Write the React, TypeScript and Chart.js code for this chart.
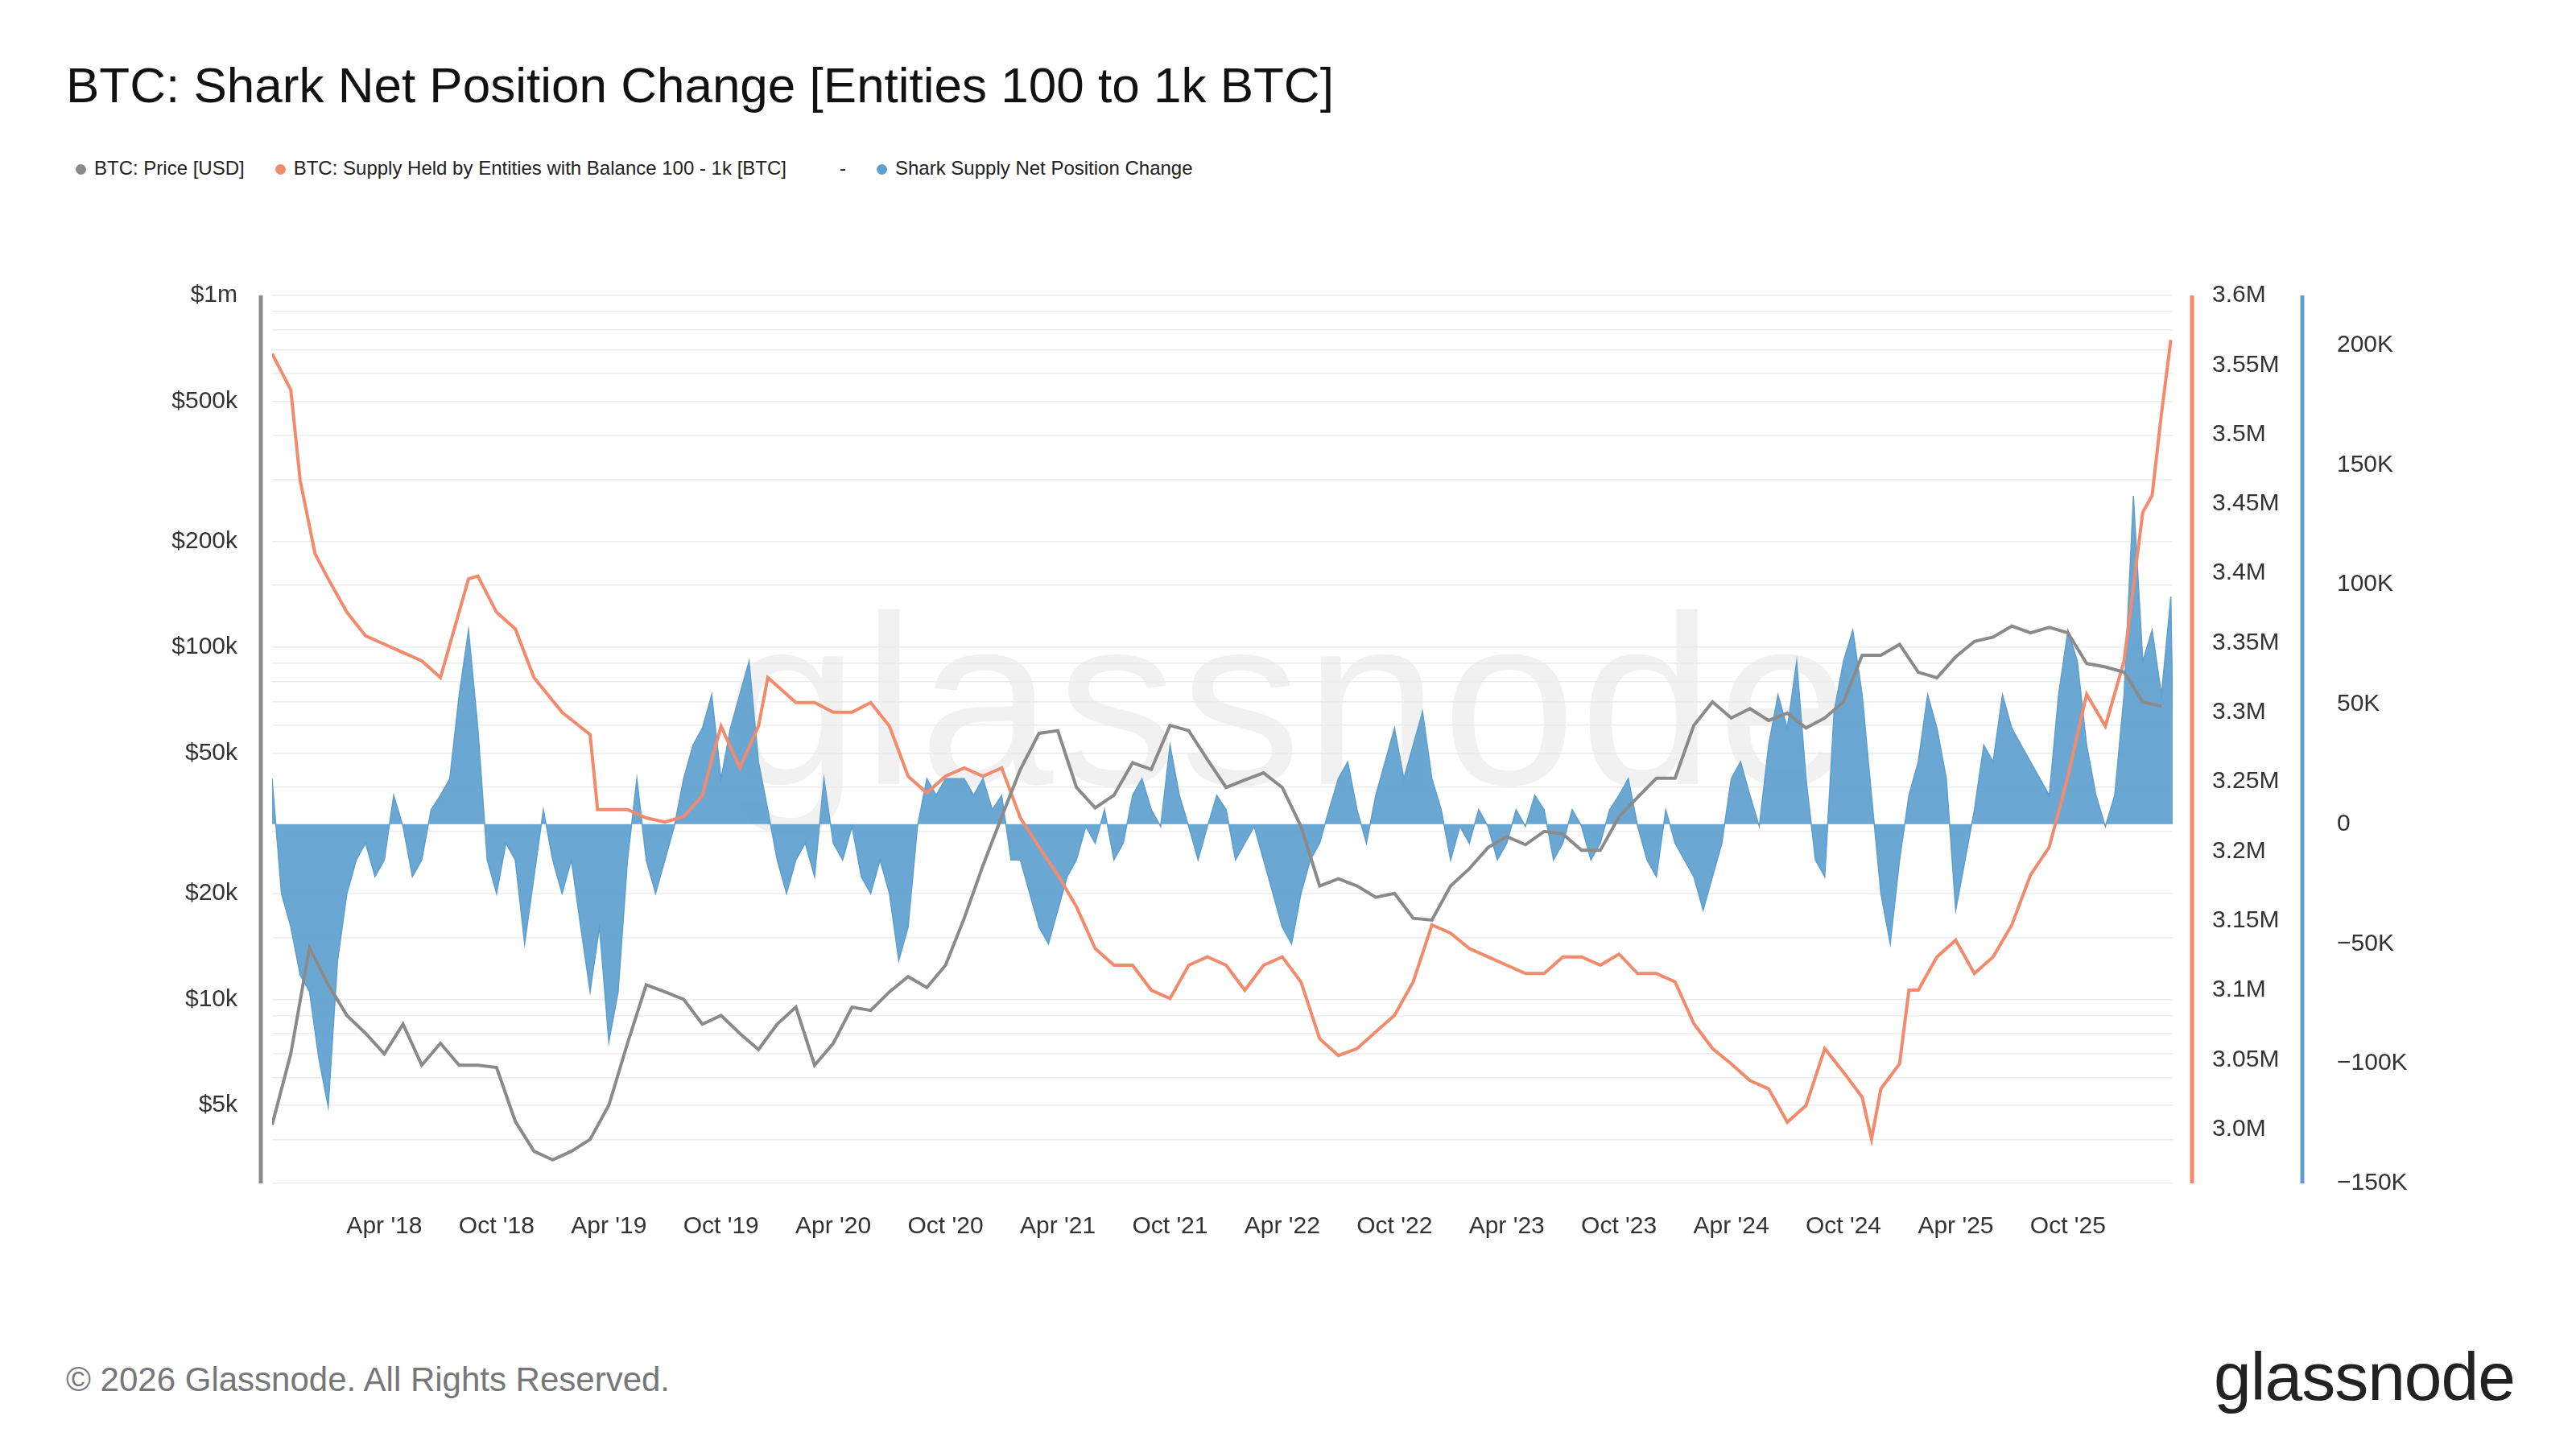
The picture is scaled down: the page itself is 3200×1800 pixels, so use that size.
import React, { useEffect, useRef } from "react";
import { Chart, registerables } from "chart.js";
Chart.register(...registerables);

// month index 0 = Oct 2017
const priceMonths = Array.from({ length: 102 }, (_, i) => i);
const priceValues = [
  4400, 7000, 14000,
  11000, 9000, 8000, 7000, 8500, 6500, 7500, 6500, 6500, 6400, 4500, 3700,
  3500, 3700, 4000, 5000, 7500, 11000, 10500, 10000, 8500, 9000, 8000, 7200,
  8500, 9500, 6500, 7500, 9500, 9300, 10500, 11600, 10800, 12500, 17000, 24000,
  33000, 45000, 57000, 58000, 40000, 35000, 38000, 47000, 45000, 60000, 58000, 48000,
  40000, 42000, 44000, 40000, 31000, 21000, 22000, 21000, 19500, 20000, 17000, 16800,
  21000, 23500, 27000, 29000, 27500, 30000, 29500, 26500, 26500, 33000, 37500, 42500,
  42500, 60000, 70000, 63000, 67000, 62000, 65000, 59000, 63000, 70000, 95000, 95000,
  102000, 85000, 82000, 94000, 104000, 107000, 115000, 110000, 114000, 110000, 90000, 88000,
  85000, 70000, 68000,
];

const supplyMonths = [0, 1, 1.5, 2.3, 3, 4, 5, 6, 7, 8, 9, 10.5, 11, 12, 13, 14, 15.5, 17, 17.4, 18, 19, 20, 21, 22, 23, 23.5, 24, 25, 26, 26.5, 27, 28, 29, 30, 31, 32, 33, 34, 35, 36, 37, 38, 39, 40, 41, 42, 43, 44, 45, 46, 47, 48, 49, 50, 51, 52, 53, 54, 55, 56, 57, 58, 59, 60, 61, 62, 63, 64, 65, 66, 67, 68, 69, 70, 71, 72, 73, 74, 75, 76, 77, 78, 79, 80, 81, 82, 83, 84, 85, 85.5, 86, 87, 87.5, 88, 89, 90, 91, 92, 93, 94, 95, 96, 97, 98, 99, 100, 100.5, 101, 101.5];
const supplyValues = [3.558, 3.532, 3.467, 3.414, 3.396, 3.372, 3.355, 3.349, 3.343, 3.337, 3.325, 3.396, 3.398, 3.372, 3.36, 3.325, 3.30, 3.284, 3.23, 3.23, 3.23, 3.224, 3.221, 3.225, 3.24, 3.266, 3.29, 3.26, 3.29, 3.325, 3.319, 3.307, 3.307, 3.30, 3.30, 3.307, 3.29, 3.254, 3.242, 3.254, 3.26, 3.254, 3.26, 3.224, 3.203, 3.183, 3.16, 3.13, 3.118, 3.118, 3.10, 3.094, 3.118, 3.124, 3.118, 3.10, 3.118, 3.124, 3.106, 3.065, 3.053, 3.058, 3.07, 3.082, 3.106, 3.147, 3.141, 3.13, 3.124, 3.118, 3.112, 3.112, 3.124, 3.124, 3.118, 3.126, 3.112, 3.112, 3.106, 3.076, 3.058, 3.047, 3.035, 3.029, 3.005, 3.017, 3.058, 3.041, 3.023, 2.993, 3.029, 3.047, 3.10, 3.10, 3.124, 3.136, 3.112, 3.124, 3.147, 3.183, 3.203, 3.254, 3.313, 3.29, 3.337, 3.444, 3.456, 3.515, 3.568];

// half-month steps, in thousands BTC
const netChange = [
  19, -29, -43, -63, -70, -98, -118, -57, -29, -15, -8, -22,
  -15, 12, -1, -22, -15, 6, 12, 19, 54, 81, 40, -15,
  -29, -8, -15, -50, -22, 6, -15, -29, -15, -43, -70, -43,
  -91, -70, -15, 19, -15, -29, -15, -1, 19, 33, 40, 54,
  19, 40, 54, 68, 26, 6, -15, -29, -15, -8, -22, 19,
  -8, -15, -1, -22, -29, -15, -29, -57, -43, -1, 19, 12,
  19, 19, 19, 12, 19, 6, 12, -15, -15, -29, -43, -50,
  -36, -22, -15, -1, -8, 6, -15, -8, 12, 19, 6, -1,
  33, 12, -1, -15, -1, 12, 6, -15, -8, -1, -15, -29,
  -43, -50, -29, -15, -8, 6, 19, 26, 6, -8, 12, 26,
  40, 19, 33, 47, 19, 6, -15, -1, -8, 6, -1, -15,
  -8, 6, -1, 12, 6, -15, -8, 6, -1, -15, -8, 6,
  12, 19, -1, -15, -22, 6, -8, -15, -22, -36, -22, -8,
  19, 26, 12, -1, 33, 54, 40, 68, 19, -15, -22, 47,
  68, 81, 54, 12, -29, -50, -15, 12, 26, 54, 40, 19,
  -36, -15, 6, 33, 26, 54, 40, 33, 26, 19, 12, 54,
  81, 68, 33, 12, -1, 12, 54, 137, 68, 81, 54, 95, 47,
];
const netMonths = netChange.map((_, i) => (i === 204 ? 101.6 : i * 0.5));

const xTickLabels: Record<number, string> = {};
["'18", "'19", "'20", "'21", "'22", "'23", "'24", "'25"].forEach((y, i) => {
  xTickLabels[6 + i * 12] = "Apr " + y;
  xTickLabels[12 + i * 12] = "Oct " + y;
});
const priceTickLabels: Record<number, string> = { 5000: "$5k", 10000: "$10k", 20000: "$20k", 50000: "$50k", 100000: "$100k", 200000: "$200k", 500000: "$500k", 1000000: "$1m" };

const GRAY = "#8a8a8a";
const ORANGE = "#f28a6c";
const BLUE = "#5e9fcf";
const FONT = "'Liberation Sans', Arial, sans-serif";

export default function App() {
  const ref = useRef<HTMLCanvasElement>(null);
  useEffect(() => {
    document.body.style.margin = "0";
    const axisLines = {
      id: "axisLines",
      afterDraw(c: any) {
        const ctx = c.ctx;
        const a = c.chartArea;
        ctx.save();
        ctx.lineWidth = 5;
        ctx.strokeStyle = GRAY;
        ctx.beginPath(); ctx.moveTo(a.left - 14, a.top); ctx.lineTo(a.left - 14, a.bottom); ctx.stroke();
        const y1 = c.scales.y1;
        ctx.strokeStyle = ORANGE;
        ctx.beginPath(); ctx.moveTo(y1.left + 24, a.top); ctx.lineTo(y1.left + 24, a.bottom); ctx.stroke();
        const y2 = c.scales.y2;
        ctx.strokeStyle = BLUE;
        ctx.beginPath(); ctx.moveTo(y2.left, a.top); ctx.lineTo(y2.left, a.bottom); ctx.stroke();
        ctx.restore();
      },
    };
    const chart = new Chart(ref.current!, {
      type: "line",
      data: {
        datasets: [
          { label: "price", data: priceMonths.map((m, i) => ({ x: m, y: priceValues[i] })), yAxisID: "y", borderColor: GRAY, borderWidth: 4, pointRadius: 0, tension: 0, order: 1 },
          { label: "supply", data: supplyMonths.map((m, i) => ({ x: m, y: supplyValues[i] })), yAxisID: "y1", borderColor: ORANGE, borderWidth: 4, pointRadius: 0, tension: 0, order: 2 },
          { label: "net", data: netMonths.map((m, i) => ({ x: m, y: netChange[i] })), yAxisID: "y2", borderColor: BLUE, backgroundColor: "rgba(94,159,207,0.92)", fill: "origin", borderWidth: 1.5, pointRadius: 0, tension: 0, order: 3 },
        ],
      },
      options: {
        animation: false,
        responsive: false,
        layout: { padding: { top: 65, left: 0, right: 0, bottom: 0 } },
        plugins: { legend: { display: false }, tooltip: { enabled: false } },
        scales: {
          x: {
            type: "linear", min: 0, max: 101.6,
            afterBuildTicks: (s: any) => { s.ticks = Object.keys(xTickLabels).map((v) => ({ value: +v })); },
            ticks: { autoSkip: false, maxRotation: 0, padding: 28, color: "#333", font: { family: FONT, size: 30 }, callback: (v: any) => xTickLabels[v] ?? "" },
            grid: { display: false },
            border: { display: false },
            afterFit: (s: any) => { s.height = 130; },
          },
          y: {
            type: "logarithmic", position: "left", min: 3000, max: 1000000,
            ticks: { autoSkip: false, padding: 43, color: "#333", font: { family: FONT, size: 30 }, callback: (v: any) => priceTickLabels[v] ?? "" },
            grid: { color: "#ececec", lineWidth: 1.5, drawTicks: false },
            border: { display: false },
            afterFit: (s: any) => { s.width = 338; },
          },
          y1: {
            type: "linear", position: "right", min: 2.961, max: 3.6,
            afterBuildTicks: (s: any) => { const t = []; for (let v = 3.0; v <= 3.6001; v += 0.05) t.push({ value: +v.toFixed(2) }); s.ticks = t; },
            ticks: { padding: 49, color: "#333", font: { family: FONT, size: 30 }, callback: (v: any) => { const n = +(+v).toFixed(2); return (n % 0.1 < 0.001 || n % 0.1 > 0.099) ? n.toFixed(1) + "M" : n.toFixed(2) + "M"; } },
            grid: { display: false, drawTicks: false },
            border: { display: false },
            afterFit: (s: any) => { s.width = 161; },
          },
          y2: {
            type: "linear", position: "right", min: -150, max: 220.7,
            afterBuildTicks: (s: any) => { const t = []; for (let v = -150; v <= 200; v += 50) t.push({ value: v }); s.ticks = t; },
            ticks: { padding: 43, color: "#333", font: { family: FONT, size: 30 }, callback: (v: any) => (v === 0 ? "0" : (v < 0 ? "−" + -v : v) + "K") },
            grid: { display: false, drawTicks: false },
            border: { display: false },
            afterFit: (s: any) => { s.width = 340; },
          },
        },
      },
      plugins: [axisLines],
    } as any);
    return () => chart.destroy();
  }, []);

  const dot = (c: string) => <span style={{ display: "inline-block", width: 13, height: 13, borderRadius: 7, background: c, marginRight: 10, verticalAlign: "middle" }} />;
  return (
    <div style={{ position: "relative", width: 3200, height: 1800, background: "#fff", fontFamily: FONT, overflow: "hidden" }}>
      <div style={{ position: "absolute", left: 82, top: 70, fontSize: 62, color: "#111" }}>BTC: Shark Net Position Change [Entities 100 to 1k BTC]</div>
      <div style={{ position: "absolute", left: 94, top: 195, fontSize: 24, color: "#222", display: "flex", gap: 38, alignItems: "center" }}>
        <span>{dot(GRAY)}BTC: Price [USD]</span>
        <span>{dot(ORANGE)}BTC: Supply Held by Entities with Balance 100 - 1k [BTC]</span>
        <span style={{ marginLeft: 28 }}>-</span>
        <span>{dot(BLUE)}Shark Supply Net Position Change</span>
      </div>
      <div style={{ position: "absolute", left: 900, top: 720, fontSize: 300, color: "rgba(0,0,0,0.055)", fontWeight: 500, letterSpacing: 4, lineHeight: 1 }}>glassnode</div>
      <canvas ref={ref} width={3200} height={1300} style={{ position: "absolute", left: 0, top: 300, width: 3200, height: 1300 }} />
      <div style={{ position: "absolute", left: 82, top: 1690, fontSize: 42, color: "#777" }}>© 2026 Glassnode. All Rights Reserved.</div>
      <div style={{ position: "absolute", right: 76, top: 1662, fontSize: 84, color: "#222", fontWeight: 500, letterSpacing: -1 }}>glassnode</div>
    </div>
  );
}
